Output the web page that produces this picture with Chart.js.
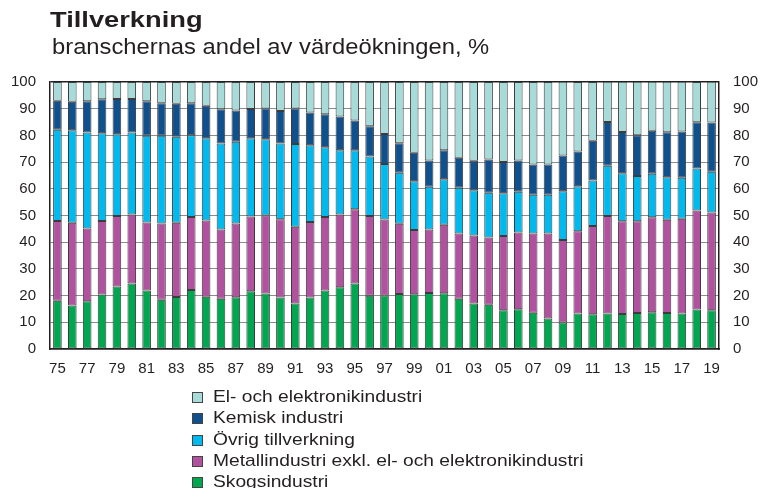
<!DOCTYPE html>
<html lang="sv">
<head>
<meta charset="UTF-8">
<script src="https://cdn.jsdelivr.net/npm/chart.js"></script>
<title>Tillverkning</title>
<style>
  body { margin: 0; background: #fff; font-family: "Liberation Sans", Arial, sans-serif; color: #231f20; }
  .wrap { position: relative; width: 765px; height: 488px; }
  #chart { position: absolute; left: 0; top: 0; }
  .title { position: absolute; left: 50px; top: 7px; font-size: 22px; font-weight: bold; transform: scaleX(1.24); transform-origin: left; }
  .subtitle { position: absolute; left: 52px; top: 34px; font-size: 22px; transform: scaleX(1.08); transform-origin: left; }
  #legend { position: absolute; left: 192px; top: 386px; font-size: 17px; }
  #legend div { height: 21.25px; line-height: 21.25px; white-space: nowrap; }
  #legend span.box { display: inline-block; width: 9px; height: 9px; border: 1px solid #444; margin-right: 10px; vertical-align: -1px; }
  #legend span.txt { display: inline-block; transform: scaleX(1.13); transform-origin: left; }
</style>
</head>
<body>
<div class="wrap">
  <canvas id="chart" width="765" height="488"></canvas>
  <div class="title">Tillverkning</div>
  <div class="subtitle">branschernas andel av värdeökningen, %</div>
  <div id="legend"></div>
</div>
<script>
// år 1975-2019
const years = ['75','76','77','78','79','80','81','82','83','84','85','86','87','88','89','90','91','92','93','94','95','96','97','98','99','00','01','02','03','04','05','06','07','08','09','10','11','12','13','14','15','16','17','18','19'];

const skog = [18.1,16.3,17.9,20.4,23.4,24.5,21.9,18.4,19.5,22.1,19.6,18.8,19.4,21.6,20.8,19.3,17.0,19.3,21.9,23.1,24.5,19.9,20.0,20.6,20.5,21.0,20.9,18.8,17.0,16.6,14.5,14.9,13.6,11.4,9.9,13.3,13.0,13.3,13.1,13.5,13.8,13.5,13.3,14.8,14.5];
const metall = [29.8,31.0,27.2,27.5,26.4,25.9,25.5,28.6,27.8,27.3,28.5,26.0,27.6,28.0,29.2,29.3,28.8,28.3,27.5,27.3,27.8,29.9,28.5,26.3,24.1,23.8,25.6,24.5,25.5,25.2,27.8,28.7,29.7,31.9,30.9,30.8,33.1,36.5,34.7,34.3,35.5,34.9,35.5,37.1,36.6];
const ovrig = [34.2,34.6,36.0,32.9,30.6,30.7,32.5,32.9,32.2,30.7,30.8,32.2,30.6,29.3,28.6,28.4,31.0,28.7,26.2,24.0,22.1,22.3,20.8,19.1,18.2,16.0,17.1,17.1,17.0,16.7,16.0,15.3,14.5,14.5,18.3,16.9,17.0,18.8,18.0,17.0,16.3,15.9,15.3,15.7,15.3];
const kemisk = [10.9,10.7,11.7,12.7,13.2,12.5,12.9,12.1,12.4,11.9,12.2,12.8,11.7,11.0,11.5,12.1,13.3,12.3,12.3,12.7,11.2,11.3,11.2,11.1,10.7,9.8,10.8,11.2,11.0,12.5,11.7,11.7,11.3,11.3,13.4,13.0,14.9,16.4,15.5,15.3,16.1,16.9,17.4,17.3,18.4];
const elektronik = [7.0,7.4,7.2,6.5,6.4,6.4,7.2,8.0,8.1,8.0,8.9,10.2,10.7,10.1,9.9,10.9,9.9,11.4,12.1,12.9,14.4,16.6,19.5,22.9,26.5,29.4,25.6,28.4,29.5,29.0,30.0,29.4,30.9,30.9,27.6,26.0,22.0,15.1,18.8,20.0,18.4,18.9,18.6,15.1,15.3];

const seriesNames = ['Skogsindustri', 'Metallindustri exkl. el- och elektronikindustri', 'Övrig tillverkning', 'Kemisk industri', 'El- och elektronikindustri'];
const seriesColors = ['#00a650', '#b0529f', '#00b9ef', '#10518d', '#a7dbd9'];
const seriesData = [skog, metall, ovrig, kemisk, elektronik];

const datasets = seriesData.map((d, i) => ({
    label: seriesNames[i],
    data: d,
    backgroundColor: seriesColors[i],
    borderColor: '#3c3c3c',
    borderWidth: 1,
    borderSkipped: false,
    barPercentage: 0.58,
    categoryPercentage: 1
}));

// legend, top series first
const legend = document.getElementById('legend');
for (let i = seriesNames.length - 1; i >= 0; i--) {
    const row = document.createElement('div');
    row.innerHTML = `<span class="box" style="background:${seriesColors[i]}"></span><span class="txt">${seriesNames[i]}</span>`;
    legend.appendChild(row);
}

const tickFont = { family: '"Liberation Sans", Arial, sans-serif', size: 15 };

new Chart(document.getElementById('chart'), {
    type: 'bar',
    data: { labels: years, datasets: datasets },
    options: {
        responsive: false,
        animation: false,
        layout: { padding: { top: 82, bottom: 104, left: 0, right: 0 } },
        plugins: { legend: { display: false }, tooltip: { enabled: false } },
        scales: {
            x: {
                stacked: true,
                grid: { display: false, drawTicks: false },
                border: { display: true, color: '#231f20', width: 1.5 },
                ticks: {
                    color: '#231f20', font: tickFont, maxRotation: 0, autoSkip: false, padding: 11,
                    callback: (v, i) => i % 2 === 0 ? years[i] : ''
                },
                afterFit: s => { s.height = 35; }
            },
            y: {
                stacked: true, min: 0, max: 100,
                grid: { color: c => c.tick.value === 100 ? '#231f20' : '#8c8c8c', lineWidth: c => c.tick.value === 100 ? 1.5 : 1, drawTicks: false },
                border: { color: '#231f20', width: 1.5 },
                ticks: { stepSize: 10, color: '#231f20', font: tickFont, padding: 14 },
                afterFit: s => { s.width = 50; }
            },
            y2: {
                position: 'right', min: 0, max: 100,
                grid: { drawOnChartArea: false, drawTicks: false },
                border: { color: '#231f20', width: 1.5 },
                ticks: { stepSize: 10, color: '#231f20', font: tickFont, padding: 14 },
                afterFit: s => { s.width = 46; }
            }
        }
    }
});
</script>
</body>
</html>
